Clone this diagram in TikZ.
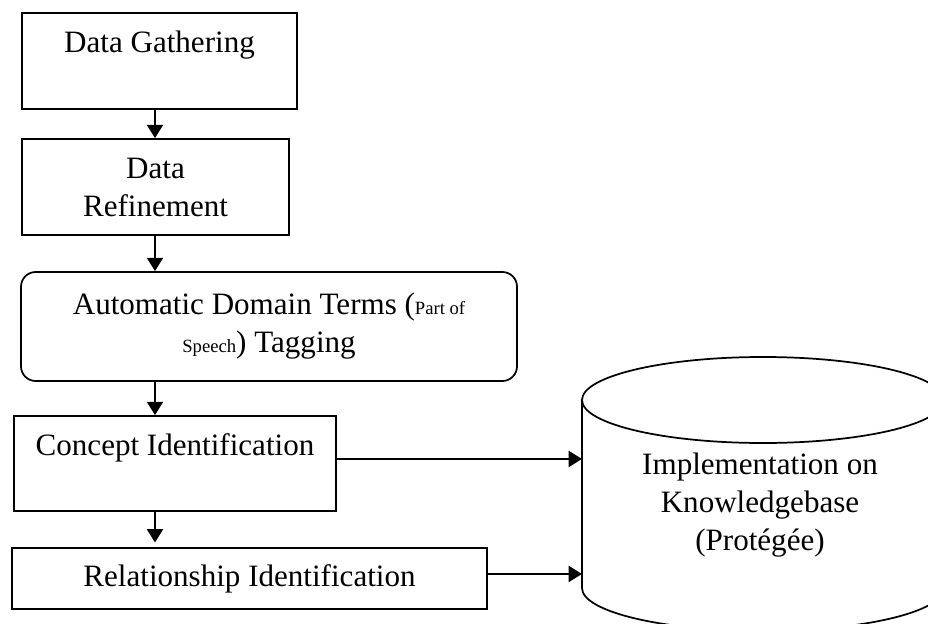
\documentclass[tikz,border=0pt]{standalone}
\usepackage{fontspec}
\setmainfont{Liberation Serif}
\usetikzlibrary{arrows.meta}

\newcommand{\bigtxt}{\fontsize{23.3pt}{28.5pt}\selectfont}
\newcommand{\smalltxt}{\fontsize{14pt}{17pt}\selectfont}

\tikzset{
	stage/.style={draw=black,line width=1.3pt,inner sep=0pt,align=center,font=\bigtxt},
	flow/.style={line width=1.6pt,-{Triangle[length=10pt,width=12pt]}}
}

\begin{document}
\begin{tikzpicture}[x=0.75pt,y=-0.75pt]
	\path[use as bounding box,clip] (0,0) rectangle (928,624);
	\coordinate (axis) at (155,0);

	\node[stage,minimum width=206.25pt,minimum height=72pt] (gather) at (159.5,61) {Data Gathering\\\mbox{}};
	\node[stage,minimum width=200.25pt,minimum height=72pt] (refine) at (155.5,187) {Data\\Refinement};
	\node[stage,rounded corners=11pt,minimum width=372pt,minimum height=81.75pt] (tagging) at (269,326.5) {
			Automatic Domain Terms ({\smalltxt Part of}\\
			{\smalltxt Speech}) Tagging
		};
	\node[stage,minimum width=241.5pt,minimum height=71.25pt] (concept) at (175,463.5) {Concept Identification\\\mbox{}};
	\node[stage,minimum width=356.25pt,minimum height=45.75pt] (relation) at (249.5,578.5) {Relationship Identification};

	\draw[line width=1.3pt] (582,400) -- (582,588) arc[start angle=180,end angle=360,x radius=135.75pt,y radius=32.25pt] -- (944,400);
	\draw[line width=1.3pt] (763,400) ellipse[x radius=135.75pt,y radius=32.25pt];
	\coordinate (dbside) at (582,494);
	\node[font=\bigtxt,align=center] (db) at (760,505) {Implementation on\\Knowledgebase\\(Protégée)};

	\draw[flow] (axis |- gather.south) -- (axis |- refine.north);
	\draw[flow] (axis |- refine.south) -- (axis |- tagging.north);
	\draw[flow] (axis |- tagging.south) -- (axis |- concept.north);
	\draw[flow,shorten >=3.5pt] (axis |- concept.south) -- (axis |- relation.north);
	\draw[flow] ([yshift=3.4pt]concept.east) -- ([yshift=3.4pt]concept.east -| dbside);
	\draw[flow] ([yshift=3.4pt]relation.east) -- ([yshift=3.4pt]relation.east -| dbside);
\end{tikzpicture}
\end{document}
